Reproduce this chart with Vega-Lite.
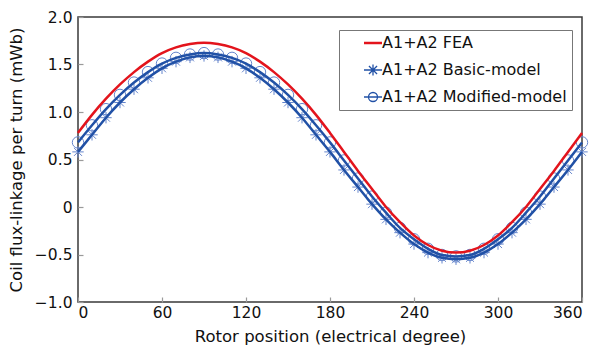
{
  "$schema": "https://vega.github.io/schema/vega-lite/v6.json",
  "width": 504,
  "height": 285,
  "autosize": {"type": "none"},
  "padding": {"left": 78, "top": 17, "right": 19, "bottom": 51},
  "background": "white",
  "config": {
    "font": "DejaVu Sans",
    "view": {"stroke": "#3a3a3a", "strokeWidth": 1.5},
    "axis": {
      "domain": false,
      "grid": false,
      "tickColor": "#9a9a9a",
      "tickSize": -5,
      "tickWidth": 1.2,
      "labelFont": "DejaVu Sans",
      "labelFontSize": 15.5,
      "labelColor": "#111",
      "titleFont": "DejaVu Sans",
      "titleFontSize": 16.5,
      "titleFontWeight": "normal",
      "titleColor": "#111"
    }
  },
  "data": {
    "values": [
      {"deg": 0, "series": "A1+A2 FEA", "v": 0.78},
      {"deg": 10, "series": "A1+A2 FEA", "v": 0.97},
      {"deg": 20, "series": "A1+A2 FEA", "v": 1.14},
      {"deg": 30, "series": "A1+A2 FEA", "v": 1.29},
      {"deg": 40, "series": "A1+A2 FEA", "v": 1.42},
      {"deg": 50, "series": "A1+A2 FEA", "v": 1.53},
      {"deg": 60, "series": "A1+A2 FEA", "v": 1.62},
      {"deg": 70, "series": "A1+A2 FEA", "v": 1.68},
      {"deg": 80, "series": "A1+A2 FEA", "v": 1.715},
      {"deg": 90, "series": "A1+A2 FEA", "v": 1.73},
      {"deg": 100, "series": "A1+A2 FEA", "v": 1.715},
      {"deg": 110, "series": "A1+A2 FEA", "v": 1.68},
      {"deg": 120, "series": "A1+A2 FEA", "v": 1.62},
      {"deg": 130, "series": "A1+A2 FEA", "v": 1.53},
      {"deg": 140, "series": "A1+A2 FEA", "v": 1.42},
      {"deg": 150, "series": "A1+A2 FEA", "v": 1.29},
      {"deg": 160, "series": "A1+A2 FEA", "v": 1.14},
      {"deg": 170, "series": "A1+A2 FEA", "v": 0.97},
      {"deg": 180, "series": "A1+A2 FEA", "v": 0.78},
      {"deg": 190, "series": "A1+A2 FEA", "v": 0.58},
      {"deg": 200, "series": "A1+A2 FEA", "v": 0.38},
      {"deg": 210, "series": "A1+A2 FEA", "v": 0.19},
      {"deg": 220, "series": "A1+A2 FEA", "v": 0.0},
      {"deg": 230, "series": "A1+A2 FEA", "v": -0.16},
      {"deg": 240, "series": "A1+A2 FEA", "v": -0.3},
      {"deg": 250, "series": "A1+A2 FEA", "v": -0.4},
      {"deg": 260, "series": "A1+A2 FEA", "v": -0.46},
      {"deg": 270, "series": "A1+A2 FEA", "v": -0.48},
      {"deg": 280, "series": "A1+A2 FEA", "v": -0.46},
      {"deg": 290, "series": "A1+A2 FEA", "v": -0.4},
      {"deg": 300, "series": "A1+A2 FEA", "v": -0.3},
      {"deg": 310, "series": "A1+A2 FEA", "v": -0.16},
      {"deg": 320, "series": "A1+A2 FEA", "v": 0.0},
      {"deg": 330, "series": "A1+A2 FEA", "v": 0.19},
      {"deg": 340, "series": "A1+A2 FEA", "v": 0.38},
      {"deg": 350, "series": "A1+A2 FEA", "v": 0.58},
      {"deg": 360, "series": "A1+A2 FEA", "v": 0.78},

      {"deg": 0, "series": "A1+A2 Basic-model", "v": 0.58},
      {"deg": 10, "series": "A1+A2 Basic-model", "v": 0.76},
      {"deg": 20, "series": "A1+A2 Basic-model", "v": 0.94},
      {"deg": 30, "series": "A1+A2 Basic-model", "v": 1.1},
      {"deg": 40, "series": "A1+A2 Basic-model", "v": 1.24},
      {"deg": 50, "series": "A1+A2 Basic-model", "v": 1.36},
      {"deg": 60, "series": "A1+A2 Basic-model", "v": 1.46},
      {"deg": 70, "series": "A1+A2 Basic-model", "v": 1.53},
      {"deg": 80, "series": "A1+A2 Basic-model", "v": 1.575},
      {"deg": 90, "series": "A1+A2 Basic-model", "v": 1.59},
      {"deg": 100, "series": "A1+A2 Basic-model", "v": 1.575},
      {"deg": 110, "series": "A1+A2 Basic-model", "v": 1.53},
      {"deg": 120, "series": "A1+A2 Basic-model", "v": 1.46},
      {"deg": 130, "series": "A1+A2 Basic-model", "v": 1.36},
      {"deg": 140, "series": "A1+A2 Basic-model", "v": 1.24},
      {"deg": 150, "series": "A1+A2 Basic-model", "v": 1.1},
      {"deg": 160, "series": "A1+A2 Basic-model", "v": 0.94},
      {"deg": 170, "series": "A1+A2 Basic-model", "v": 0.76},
      {"deg": 180, "series": "A1+A2 Basic-model", "v": 0.58},
      {"deg": 190, "series": "A1+A2 Basic-model", "v": 0.39},
      {"deg": 200, "series": "A1+A2 Basic-model", "v": 0.21},
      {"deg": 210, "series": "A1+A2 Basic-model", "v": 0.03},
      {"deg": 220, "series": "A1+A2 Basic-model", "v": -0.13},
      {"deg": 230, "series": "A1+A2 Basic-model", "v": -0.27},
      {"deg": 240, "series": "A1+A2 Basic-model", "v": -0.39},
      {"deg": 250, "series": "A1+A2 Basic-model", "v": -0.48},
      {"deg": 260, "series": "A1+A2 Basic-model", "v": -0.535},
      {"deg": 270, "series": "A1+A2 Basic-model", "v": -0.55},
      {"deg": 280, "series": "A1+A2 Basic-model", "v": -0.535},
      {"deg": 290, "series": "A1+A2 Basic-model", "v": -0.48},
      {"deg": 300, "series": "A1+A2 Basic-model", "v": -0.39},
      {"deg": 310, "series": "A1+A2 Basic-model", "v": -0.27},
      {"deg": 320, "series": "A1+A2 Basic-model", "v": -0.13},
      {"deg": 330, "series": "A1+A2 Basic-model", "v": 0.03},
      {"deg": 340, "series": "A1+A2 Basic-model", "v": 0.21},
      {"deg": 350, "series": "A1+A2 Basic-model", "v": 0.39},
      {"deg": 360, "series": "A1+A2 Basic-model", "v": 0.58},

      {"deg": 0, "series": "A1+A2 Modified-model", "v": 0.68},
      {"deg": 10, "series": "A1+A2 Modified-model", "v": 0.86},
      {"deg": 20, "series": "A1+A2 Modified-model", "v": 1.03},
      {"deg": 30, "series": "A1+A2 Modified-model", "v": 1.18},
      {"deg": 40, "series": "A1+A2 Modified-model", "v": 1.31},
      {"deg": 50, "series": "A1+A2 Modified-model", "v": 1.42},
      {"deg": 60, "series": "A1+A2 Modified-model", "v": 1.51},
      {"deg": 70, "series": "A1+A2 Modified-model", "v": 1.57},
      {"deg": 80, "series": "A1+A2 Modified-model", "v": 1.605},
      {"deg": 90, "series": "A1+A2 Modified-model", "v": 1.62},
      {"deg": 100, "series": "A1+A2 Modified-model", "v": 1.605},
      {"deg": 110, "series": "A1+A2 Modified-model", "v": 1.57},
      {"deg": 120, "series": "A1+A2 Modified-model", "v": 1.51},
      {"deg": 130, "series": "A1+A2 Modified-model", "v": 1.42},
      {"deg": 140, "series": "A1+A2 Modified-model", "v": 1.31},
      {"deg": 150, "series": "A1+A2 Modified-model", "v": 1.18},
      {"deg": 160, "series": "A1+A2 Modified-model", "v": 1.03},
      {"deg": 170, "series": "A1+A2 Modified-model", "v": 0.86},
      {"deg": 180, "series": "A1+A2 Modified-model", "v": 0.68},
      {"deg": 190, "series": "A1+A2 Modified-model", "v": 0.49},
      {"deg": 200, "series": "A1+A2 Modified-model", "v": 0.3},
      {"deg": 210, "series": "A1+A2 Modified-model", "v": 0.11},
      {"deg": 220, "series": "A1+A2 Modified-model", "v": -0.06},
      {"deg": 230, "series": "A1+A2 Modified-model", "v": -0.22},
      {"deg": 240, "series": "A1+A2 Modified-model", "v": -0.34},
      {"deg": 250, "series": "A1+A2 Modified-model", "v": -0.44},
      {"deg": 260, "series": "A1+A2 Modified-model", "v": -0.505},
      {"deg": 270, "series": "A1+A2 Modified-model", "v": -0.52},
      {"deg": 280, "series": "A1+A2 Modified-model", "v": -0.505},
      {"deg": 290, "series": "A1+A2 Modified-model", "v": -0.44},
      {"deg": 300, "series": "A1+A2 Modified-model", "v": -0.34},
      {"deg": 310, "series": "A1+A2 Modified-model", "v": -0.22},
      {"deg": 320, "series": "A1+A2 Modified-model", "v": -0.06},
      {"deg": 330, "series": "A1+A2 Modified-model", "v": 0.11},
      {"deg": 340, "series": "A1+A2 Modified-model", "v": 0.3},
      {"deg": 350, "series": "A1+A2 Modified-model", "v": 0.49},
      {"deg": 360, "series": "A1+A2 Modified-model", "v": 0.68}
    ]
  },
  "encoding": {
    "x": {
      "field": "deg",
      "type": "quantitative",
      "scale": {"domain": [0, 360], "nice": false, "zero": false},
      "axis": {
        "values": [0, 60, 120, 180, 240, 300, 360],
        "title": "Rotor position (electrical degree)",
        "labelPadding": 8,
        "titlePadding": 8
      }
    },
    "y": {
      "field": "v",
      "type": "quantitative",
      "scale": {"domain": [-1, 2], "nice": false, "zero": false},
      "axis": {
        "values": [-1, -0.5, 0, 0.5, 1, 1.5, 2],
        "labelExpr": "datum.value == 0 ? '0' : format(datum.value, '.1f')",
        "title": "Coil flux-linkage per turn (mWb)",
        "labelPadding": 11,
        "titlePadding": 10
      }
    }
  },
  "layer": [
    {
      "transform": [{"filter": "datum.series != 'A1+A2 FEA'"}],
      "mark": {"type": "point", "filled": false, "color": "#6585cc", "strokeWidth": 1, "opacity": 1},
      "encoding": {
        "shape": {
          "field": "series",
          "type": "nominal",
          "scale": {
            "domain": ["A1+A2 Basic-model", "A1+A2 Modified-model"],
            "range": ["M-1,0L1,0M0,-1L0,1M-0.7,-0.7L0.7,0.7M-0.7,0.7L0.7,-0.7", "circle"]
          },
          "legend": null
        },
        "size": {"value": 130}
      }
    },
    {
      "mark": {"type": "line", "interpolate": "monotone", "strokeWidth": 2.5},
      "encoding": {
        "color": {
          "field": "series",
          "type": "nominal",
          "sort": ["A1+A2 FEA", "A1+A2 Basic-model", "A1+A2 Modified-model"],
          "scale": {
            "domain": ["A1+A2 FEA", "A1+A2 Basic-model", "A1+A2 Modified-model"],
            "range": ["#e3141c", "#2151a6", "#2151a6"]
          },
          "legend": {
            "title": null,
            "orient": "none",
            "legendX": 261,
            "legendY": 13,
            "padding": 5,
            "strokeColor": "#777",
            "fillColor": "white",
            "symbolSize": 324,
            "symbolOffset": 21,
            "symbolStrokeWidth": 1.5,
            "labelOffset": 1,
            "labelLimit": 400,
            "labelFont": "DejaVu Sans",
            "labelFontSize": 16,
            "labelColor": "#111",
            "rowPadding": 11,
            "encode": {
              "symbols": {
                "update": {
                  "shape": {"signal": "datum.value == 'A1+A2 FEA' ? 'M-1,0L1,0' : datum.value == 'A1+A2 Basic-model' ? 'M-1,0L1,0M0,-0.6L0,0.6M-0.45,-0.45L0.45,0.45M-0.45,0.45L0.45,-0.45' : 'M-1,0L1,0M-0.5,0A0.5,0.5 0 1,1 0.5,0A0.5,0.5 0 1,1 -0.5,0'"},
                  "strokeWidth": {"signal": "datum.value == 'A1+A2 FEA' ? 2.5 : 1.3"},
                  "stroke": {"signal": "datum.value == 'A1+A2 FEA' ? '#e3141c' : '#2151a6'"},
                  "fill": {"value": "transparent"}
                }
              }
            }
          }
        }
      }
    }
  ]
}
